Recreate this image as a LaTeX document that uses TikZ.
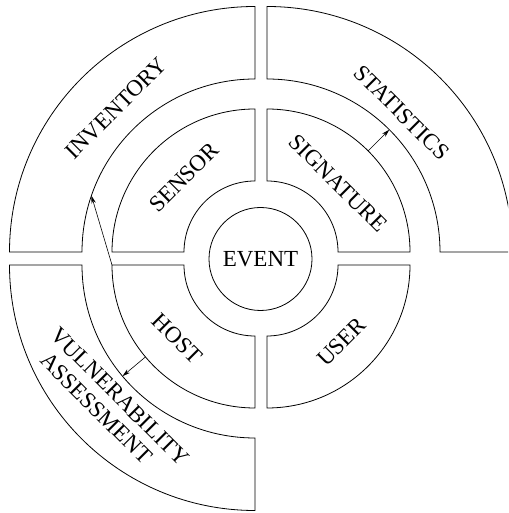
\documentclass[tikz,border=0pt]{standalone}
\usepackage{fontspec}
\setmainfont{Liberation Serif}
\usetikzlibrary{arrows.meta, calc, positioning}

% one quarter ring: corner, start angle, end angle, inner and outer radius
\newcommand{\ringpart}[5]{%
  \draw ($(#1)+(#2:#4)$) arc[start angle=#2, end angle=#3, radius=#4pt]
    -- ($(#1)+(#3:#5)$) arc[start angle=#3, end angle=#2, radius=#5pt] -- cycle;}

\begin{document}
\begin{tikzpicture}[x=1pt, y=1pt, line width=0.8pt,
    lbl/.style={font=\fontsize{23}{25}\selectfont, inner sep=0pt},
    flow/.style={line width=0.6pt, -{Stealth[length=8pt, width=4.5pt]}}]
    \useasboundingbox (0,0) rectangle (508,513);
    \clip (0,0) rectangle (508,513);

    % corners of the four quarters
    \coordinate (tl) at (255,261);
    \coordinate (tr) at (267,261);
    \coordinate (bl) at (255,248);
    \coordinate (br) at (267,248);

    % inner ring
    \ringpart{tl}{90}{180}{71}{143}
    \ringpart{tr}{0}{90}{71}{143}
    \ringpart{bl}{180}{270}{71}{143}
    \ringpart{br}{270}{360}{71}{143}

    % outer ring
    \ringpart{tl}{90}{180}{173}{245.5}
    \ringpart{tr}{0}{90}{173}{245.5}
    \ringpart{bl}{180}{270}{173}{245.5}

    \node[draw, circle, minimum size=103pt, lbl] (event) at (260.5,254) {EVENT};

    \node[lbl, rotate=45] (sensor) at ($(tl)+(133.5:103)$) {SENSOR};
    \node[lbl, rotate=-45] (signature) at ($(tr)+(44:99)$) {SIGNATURE};
    \node[lbl, rotate=-45] (host) at ($(bl)+(223.5:107)$) {HOST};
    \node[lbl, rotate=45] (user) at ($(br)+(-45.8:107)$) {USER};

    \node[lbl, rotate=45] (inventory) at ($(tl)+(134:200)$) {INVENTORY};
    \node[lbl, rotate=-45] (statistics) at ($(tr)+(46:194)$) {STATISTICS};
    \node[lbl, rotate=-45, align=center] (vuln) at ($(bl)+(224.3:201)$)
        {VULNERABILITY\\ASSESSMENT\hspace*{17pt}};

    % links between the rings
    \coordinate (hostcorner) at ($(bl)+(180:143)$);
    \coordinate (invin) at ($(tl)+(161:173)$);
    \coordinate (sigout) at ($(tr)+(45:143)$);
    \coordinate (statin) at ($(tr)+(45:173)$);
    \coordinate (hostout) at ($(bl)+(220:143)$);
    \coordinate (vulnin) at ($(bl)+(220:173)$);
    \draw[flow] (hostcorner) -- (invin);
    \draw[flow] (sigout) -- (statin);
    \draw[flow] (hostout) -- (vulnin);
\end{tikzpicture}
\end{document}
